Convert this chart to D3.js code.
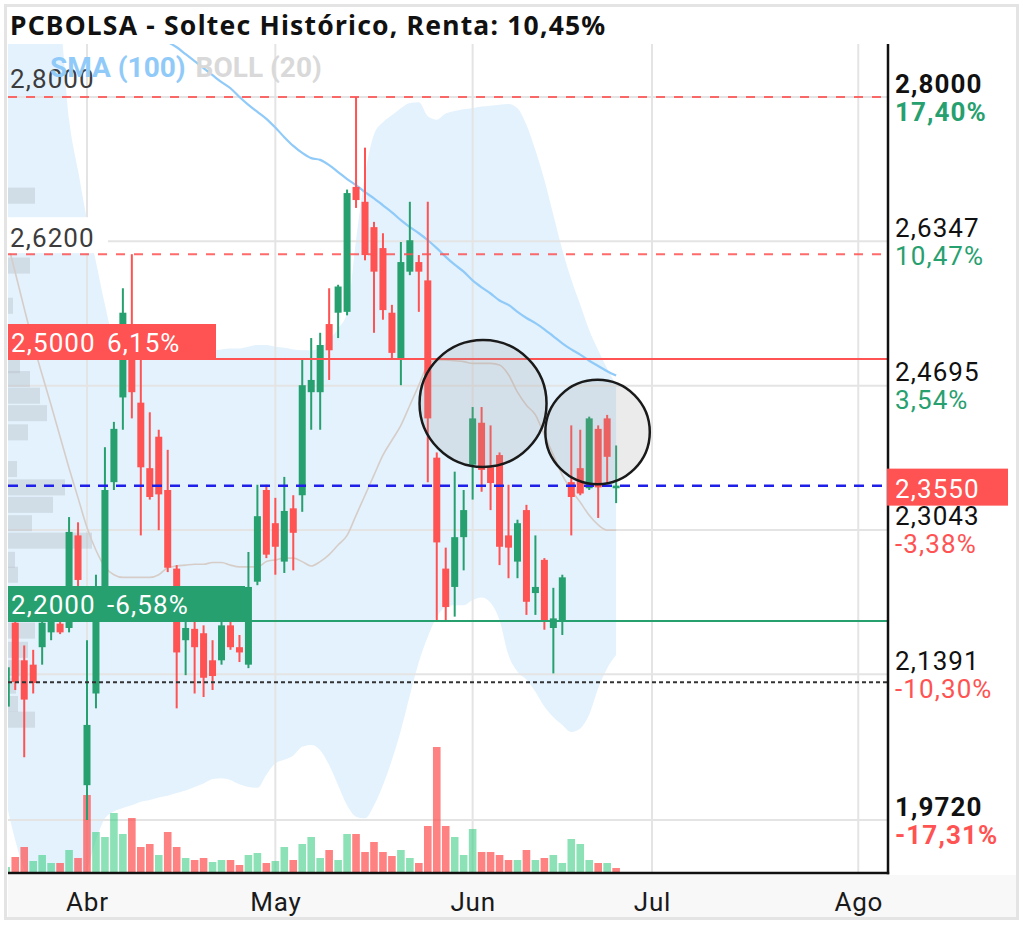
<!DOCTYPE html>
<html><head><meta charset="utf-8">
<script src="https://cdn.jsdelivr.net/npm/d3@7"></script>
<style>body{margin:0;background:#fff} svg{display:block}</style>
</head><body><svg id="c" width="1023" height="926"></svg>
<script>
// ---------------- DATA ----------------
const firstIndex = -9; // trading-day index of first candle (0 = 2 Abr)
const opens = [2.102,2.198,2.155,2.150,2.170,2.187,2.197,2.192,2.298,2.012,2.117,2.212,2.359,2.456,2.527,2.450,2.375,2.411,2.350,2.260,2.178,2.191,2.186,2.155,2.155,2.195,2.170,2.150,2.245,2.350,2.312,2.268,2.329,2.344,2.462,2.462,2.540,2.553,2.554,2.697,2.680,2.651,2.627,2.553,2.501,2.600,2.611,2.590,2.387,2.260,2.239,2.296,2.379,2.427,2.376,2.390,2.298,2.268,2.327,2.232,2.270,2.192,2.199,2.359,2.375,2.352,2.420,2.432,2.352];
const highs = [2.155,2.207,2.172,2.167,2.207,2.203,2.201,2.319,2.313,2.178,2.253,2.399,2.428,2.581,2.620,2.505,2.439,2.419,2.396,2.264,2.224,2.207,2.195,2.178,2.201,2.224,2.184,2.279,2.356,2.356,2.341,2.365,2.344,2.499,2.524,2.530,2.581,2.585,2.694,2.800,2.742,2.657,2.644,2.562,2.634,2.680,2.619,2.680,2.393,2.284,2.371,2.350,2.445,2.445,2.424,2.393,2.356,2.316,2.333,2.298,2.272,2.238,2.253,2.424,2.419,2.434,2.424,2.436,2.401];
const lows = [2.096,2.121,2.044,2.117,2.150,2.178,2.185,2.187,2.224,1.972,2.100,2.207,2.350,2.419,2.432,2.298,2.339,2.304,2.256,2.100,2.138,2.117,2.113,2.121,2.150,2.167,2.153,2.146,2.241,2.272,2.253,2.255,2.258,2.325,2.419,2.419,2.476,2.524,2.550,2.673,2.613,2.530,2.545,2.501,2.470,2.596,2.554,2.359,2.201,2.201,2.205,2.258,2.339,2.348,2.327,2.264,2.249,2.249,2.207,2.207,2.190,2.140,2.184,2.298,2.344,2.350,2.318,2.358,2.335];
const closes = [2.147,2.130,2.110,2.129,2.198,2.201,2.187,2.302,2.247,2.081,2.213,2.350,2.420,2.553,2.462,2.376,2.342,2.345,2.261,2.164,2.192,2.170,2.135,2.137,2.195,2.170,2.164,2.239,2.320,2.276,2.285,2.326,2.301,2.470,2.476,2.516,2.510,2.583,2.690,2.682,2.619,2.600,2.556,2.507,2.611,2.636,2.600,2.432,2.290,2.216,2.296,2.327,2.432,2.373,2.358,2.285,2.284,2.312,2.222,2.239,2.199,2.203,2.250,2.342,2.346,2.432,2.353,2.388,2.355];
const volumes = [60,160,260,120,180,100,100,230,150,780,410,360,600,390,550,260,290,180,410,260,150,130,150,110,130,130,80,180,200,100,120,260,130,290,360,150,230,130,390,390,210,310,210,170,230,150,100,470,1260,470,360,180,440,210,210,180,130,130,230,130,150,180,100,340,290,130,100,100,50]; // miles de acciones
const bollUpper = [2.957,2.945,2.934,2.923,2.911,2.900,2.882,2.774,2.716,2.659,2.611,2.562,2.522,2.513,2.511,2.510,2.510,2.510,2.511,2.510,2.510,2.510,2.510,2.510,2.511,2.512,2.512,2.514,2.516,2.516,2.514,2.513,2.511,2.510,2.510,2.513,2.522,2.535,2.553,2.636,2.711,2.757,2.771,2.779,2.787,2.793,2.794,2.778,2.774,2.781,2.784,2.786,2.787,2.789,2.790,2.791,2.792,2.787,2.768,2.739,2.705,2.665,2.625,2.591,2.562,2.533,2.510,2.489,2.470];
const bollMiddle = [2.639,2.599,2.558,2.518,2.482,2.447,2.411,2.375,2.341,2.307,2.281,2.262,2.253,2.250,2.250,2.250,2.250,2.253,2.261,2.263,2.264,2.265,2.265,2.267,2.267,2.264,2.262,2.262,2.262,2.268,2.270,2.272,2.272,2.268,2.263,2.268,2.276,2.287,2.298,2.321,2.344,2.367,2.390,2.407,2.424,2.447,2.470,2.493,2.499,2.499,2.498,2.497,2.495,2.495,2.495,2.493,2.482,2.462,2.447,2.436,2.413,2.390,2.367,2.350,2.336,2.321,2.310,2.304,2.304];
const bollLower = [1.992,1.949,1.915,1.892,1.881,1.878,1.878,1.884,1.897,1.915,1.949,1.974,1.982,1.986,1.989,1.993,1.995,1.998,2.000,2.003,2.006,2.010,2.014,2.019,2.020,2.018,2.013,2.010,2.009,2.024,2.037,2.041,2.046,2.056,2.058,2.052,2.035,2.012,1.989,1.976,1.974,1.989,2.012,2.041,2.075,2.115,2.153,2.182,2.205,2.216,2.218,2.218,2.224,2.227,2.221,2.201,2.161,2.142,2.133,2.119,2.102,2.090,2.081,2.073,2.077,2.093,2.123,2.146,2.161];
const sma100 = [3.003,2.995,2.987,2.979,2.971,2.963,2.955,2.947,2.939,2.931,2.923,2.915,2.907,2.899,2.891,2.882,2.874,2.868,2.863,2.857,2.849,2.841,2.833,2.825,2.817,2.810,2.800,2.791,2.783,2.775,2.765,2.754,2.744,2.736,2.730,2.728,2.722,2.714,2.706,2.699,2.691,2.684,2.676,2.668,2.659,2.651,2.644,2.636,2.627,2.617,2.608,2.600,2.590,2.582,2.575,2.567,2.562,2.554,2.547,2.541,2.534,2.526,2.518,2.511,2.505,2.498,2.492,2.486,2.481];
const profilePrices = [2.687,2.607,2.561,2.493,2.477,2.458,2.438,2.416,2.374,2.353,2.333,2.312,2.292,2.270,2.253,2.189,2.167,2.146,2.126,2.105,2.087];
const profileVolumes = [270,220,50,120,220,320,390,200,90,570,450,240,840,70,100,270,200,120,80,100,270];
const monthTickIndex = [0,21,43,63,86];
const monthLabels = ["Abr","May","Jun","Jul","Ago"];
const rightTickValues = [2.8,2.6347,2.4695,2.3043,2.1391,1.972];
const rightTickPct = ["17,40%","10,47%","3,54%","-3,38%","-10,30%","-17,31%"];
const levelValues = [2.8,2.62,2.5,2.355,2.2,2.13];
const tagValues = [2.5,2.2];
const tagPct = ["6,15%","-6,58%"];
const leftLabelValues = [2.8,2.62];
const currentPrice = 2.355;
const circleIndex = [44.16,56.93];
const circlePrice = [2.449,2.4164];
const circleRadius = [0.0727,0.0598];
const titleText = "PCBOLSA - Soltec Histórico, Renta: 10,45%";

// ---------------- CHART ----------------
const GREEN = "#27a06f", RED = "#ff5252";
const LS = "1.1px";
const svg = d3.select("#c");
const plot = {left:8, right:888, top:44, bottom:873};
const x = d3.scaleLinear().domain([0,63]).range([87,652]);
const y = d3.scaleLinear().domain([2.2,2.8]).range([621,97]);
const vy = d3.scaleLinear().domain([0,1400]).range([plot.bottom, plot.bottom-140]);
const pw = d3.scaleLinear().domain([0,1000]).range([0,100]);
const fmt = d3.formatLocale({decimal:",", thousands:".", grouping:[3], currency:["","€"]}).format(".4f");

const candles = opens.map((o,i)=>({t:firstIndex+i, o, h:highs[i], l:lows[i], c:closes[i], v:volumes[i],
  up: closes[i] >= o, vUp: i===0 ? true : closes[i] >= closes[i-1]}));

svg.append("rect").attr("width",1023).attr("height",926).attr("fill","#fff");
svg.append("rect").attr("x",8).attr("y",875).attr("width",1008).attr("height",42).attr("fill","#f8f8f8");
svg.append("rect").attr("x",5.5).attr("y",5.5).attr("width",1012).attr("height",913)
  .attr("fill","none").attr("stroke","#e4e4e4").attr("stroke-width",3);

svg.append("defs").append("clipPath").attr("id","pc").append("rect")
  .attr("x",plot.left).attr("y",plot.top).attr("width",plot.right-plot.left).attr("height",plot.bottom-plot.top);
const g = svg.append("g").attr("clip-path","url(#pc)");

// Bollinger band fill
const band = d3.area().x((d,i)=>x(firstIndex+i)).y0((d,i)=>y(bollLower[i])).y1(d=>y(d)).curve(d3.curveMonotoneX);
g.append("path").datum(bollUpper).attr("d",band).attr("fill","#e3f2fd");

// grid
g.selectAll(".hg").data(rightTickValues).join("line")
  .attr("x1",plot.left).attr("x2",plot.right).attr("y1",d=>y(d)).attr("y2",d=>y(d))
  .attr("stroke","#e4e4e4").attr("stroke-width",2);
g.selectAll(".vg").data(monthTickIndex).join("line")
  .attr("x1",d=>x(d)).attr("x2",d=>x(d)).attr("y1",plot.top).attr("y2",plot.bottom)
  .attr("stroke","#e4e4e4").attr("stroke-width",2);

// volume profile
g.selectAll(".pf").data(profilePrices).join("rect")
  .attr("x",plot.left).attr("y",d=>y(d)-8).attr("height",16)
  .attr("width",(d,i)=>pw(profileVolumes[i])).attr("fill","#b9c2c9").attr("opacity",0.45);

// BOLL middle and SMA
const line = arr => d3.line().x((d,i)=>x(firstIndex+i)).y(d=>y(d)).curve(d3.curveMonotoneX)(arr);
g.append("path").attr("d",line(bollMiddle)).attr("fill","none").attr("stroke","#d7cdc8").attr("stroke-width",1.6);
g.append("path").attr("d",line(sma100)).attr("fill","none").attr("stroke","#90caf9").attr("stroke-width",2.2);

// volumes
g.selectAll(".vol").data(candles).join("rect")
  .attr("x",d=>x(d.t)-3.8).attr("width",7.6).attr("y",d=>vy(d.v)).attr("height",d=>plot.bottom-vy(d.v))
  .attr("fill",d=>d.vUp?"#3fcf85":"#ff4d4d").attr("opacity",d=>d.vUp?0.6:0.7);

// candles
g.selectAll(".wick").data(candles).join("line")
  .attr("x1",d=>x(d.t)).attr("x2",d=>x(d.t)).attr("y1",d=>y(d.h)).attr("y2",d=>y(d.l))
  .attr("stroke",d=>d.up?GREEN:RED).attr("stroke-width",2);
g.selectAll(".body").data(candles).join("rect")
  .attr("x",d=>x(d.t)-3.5).attr("width",7)
  .attr("y",d=>y(Math.max(d.o,d.c))).attr("height",d=>Math.max(1.5,Math.abs(y(d.o)-y(d.c))))
  .attr("fill",d=>d.up?GREEN:RED);

// left price labels
g.append("rect").attr("x",plot.left).attr("y",y(leftLabelValues[1])-37).attr("width",100).attr("height",36).attr("fill","#fff");
g.selectAll(".ll").data(leftLabelValues).join("text")
  .attr("x",10).attr("y",(d,i)=>y(d)-(i===0?9:7)).text(d=>fmt(d))
  .attr("font-family","Roboto").attr("font-size",26).attr("letter-spacing",LS).attr("fill","#3c3c3c");

// level lines
const levelStyle = [
  {s:RED,w:2,dash:"9,9",o:0.85},{s:RED,w:2,dash:"9,9",o:0.85},{s:RED,w:2,dash:null,o:1},
  {s:"#1f1fe8",w:2.5,dash:"10,8",o:1},{s:GREEN,w:2,dash:null,o:1},{s:"#333",w:2,dash:"4,3",o:1}];
g.selectAll(".lv").data(levelValues).join("line")
  .attr("x1",plot.left).attr("x2",plot.right).attr("y1",d=>y(d)).attr("y2",d=>y(d))
  .attr("stroke",(d,i)=>levelStyle[i].s).attr("stroke-width",(d,i)=>levelStyle[i].w)
  .attr("stroke-dasharray",(d,i)=>levelStyle[i].dash).attr("opacity",(d,i)=>levelStyle[i].o);

// left tags
const tagW = [208,237], tagC = [RED,GREEN];
tagValues.forEach((v,i)=>{
  const yy = y(v);
  g.append("rect").attr("x",plot.left).attr("y",yy-35).attr("width",tagW[i]).attr("height",35).attr("fill",tagC[i]);
  g.append("text").attr("x",11).attr("y",yy-7).text(fmt(v)).attr("font-family","Roboto").attr("font-size",26).attr("letter-spacing",LS).attr("fill","#fff");
  g.append("text").attr("x",107).attr("y",yy-7).text(tagPct[i]).attr("font-family","Roboto").attr("font-size",26).attr("letter-spacing",LS).attr("fill","#fff");
});

// circles
circleIndex.forEach((ci,i)=>{
  const r = y(circlePrice[i]-circleRadius[i]) - y(circlePrice[i]);
  g.append("circle").attr("cx",x(ci)).attr("cy",y(circlePrice[i])).attr("r",r)
    .attr("fill","#999").attr("fill-opacity",0.2).attr("stroke","#1a1a1a").attr("stroke-width",2.5);
});

// legend
const lg = svg.append("text").attr("x",50).attr("y",77).attr("font-family","Roboto").attr("font-weight","bold").attr("font-size",28);
lg.append("tspan").attr("fill","#90caf9").text("SMA (100)");
lg.append("tspan").attr("fill","#d9d9d9").attr("dx",10).text("BOLL (20)");

// title
svg.append("text").attr("x",10).attr("y",35).text(titleText)
  .attr("font-family","'Noto Sans'").attr("font-weight","bold").attr("font-size",26.5).attr("letter-spacing","1.2px").attr("fill","#111");

// borders
svg.append("line").attr("x1",plot.right).attr("x2",plot.right).attr("y1",plot.top).attr("y2",plot.bottom+1.2)
  .attr("stroke","#111").attr("stroke-width",2.5);
svg.append("line").attr("x1",plot.left).attr("x2",plot.right+1.2).attr("y1",plot.bottom).attr("y2",plot.bottom)
  .attr("stroke","#111").attr("stroke-width",2.5);

// right axis
const ra = svg.append("g").attr("transform",`translate(${plot.right},0)`)
  .call(d3.axisRight(y).tickValues(rightTickValues).tickSize(0).tickPadding(7).tickFormat(fmt));
ra.select(".domain").remove();
ra.attr("font-family","Roboto").attr("font-size",26);
ra.selectAll(".tick text").each(function(d,i){
  const t = d3.select(this);
  const last = i===0 || i===rightTickValues.length-1;
  t.text(null).attr("dy",null).attr("x",null).attr("fill",null).attr("text-anchor","start")
   .attr("letter-spacing",LS).attr("font-weight",last?"bold":"normal");
  t.append("tspan").attr("x",7).attr("y",-5).attr("fill","#111").text(fmt(d));
  t.append("tspan").attr("x",7).attr("y",23).attr("fill",rightTickPct[i].startsWith("-")?RED:GREEN).text(rightTickPct[i]);
});
// current price tag
svg.append("rect").attr("x",plot.right-1).attr("y",y(currentPrice)-17).attr("width",121).attr("height",37).attr("fill",RED);
svg.append("text").attr("x",plot.right+7).attr("y",y(currentPrice)+12).text(fmt(currentPrice))
  .attr("font-family","Roboto").attr("font-size",26).attr("letter-spacing",LS).attr("fill","#fff");

// x axis
const xa = svg.append("g").attr("transform",`translate(0,${plot.bottom})`)
  .call(d3.axisBottom(x).tickValues(monthTickIndex).tickSize(0).tickFormat((d,i)=>monthLabels[i]));
xa.select(".domain").remove();
xa.attr("font-family","Roboto").attr("font-size",26);
xa.selectAll(".tick text").attr("y",38).attr("dy",null).attr("letter-spacing","0.8px").attr("fill","#1a1a1a");
</script></body></html>
